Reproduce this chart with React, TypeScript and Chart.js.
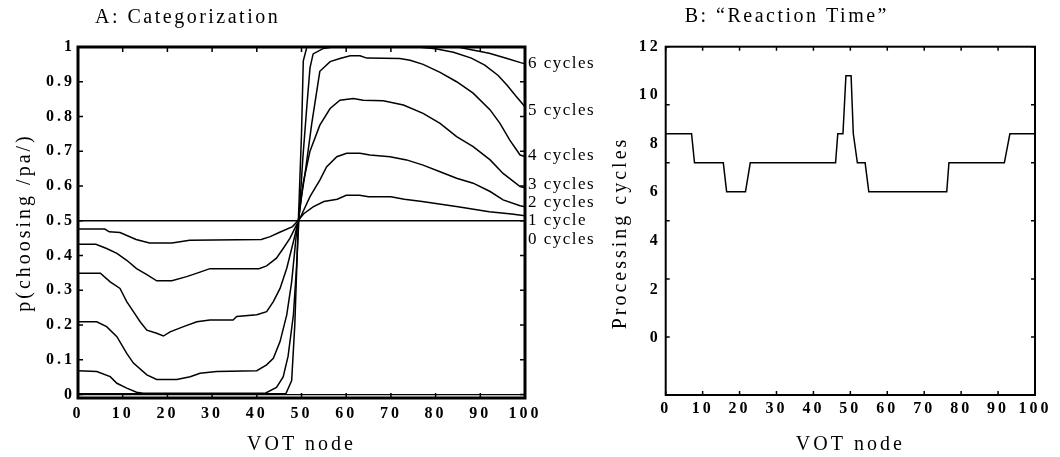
import React, { useEffect, useRef } from 'react';
import { Chart, registerables } from 'chart.js';
Chart.register(...registerables);

const FONT = '"Liberation Serif", "Times New Roman", serif';

// ---- Panel A data ----
const xTicks = [0, 10, 20, 30, 40, 50, 60, 70, 80, 90, 100];
const yTicksA = [0, 0.1, 0.2, 0.3, 0.4, 0.5, 0.6, 0.7, 0.8, 0.9, 1];

const cycle0: [number, number][] = [[0, 0.5], [100, 0.5]];
const cycle1: [number, number][] = [
  [0, 0.476], [6, 0.476], [7, 0.468], [9.4, 0.466], [13, 0.446], [16, 0.436], [21, 0.436], [25, 0.444],
  [41, 0.446], [43, 0.454], [45, 0.466], [48, 0.483], [49.2, 0.5], [50.5, 0.52], [52.6, 0.54], [55, 0.555],
  [58, 0.562], [60, 0.573], [63, 0.573], [65, 0.569], [70, 0.569], [73, 0.562], [77, 0.555], [85, 0.54],
  [92, 0.526], [97, 0.519], [100, 0.514],
];
const cycle2: [number, number][] = [
  [0, 0.432], [4, 0.432], [6.4, 0.42], [8.7, 0.406], [10.9, 0.386], [13.1, 0.362], [15.4, 0.345],
  [17.6, 0.327], [21, 0.327], [24.3, 0.339], [27.3, 0.352], [29.5, 0.362], [40.5, 0.362], [42.2, 0.37],
  [44.4, 0.392], [45.9, 0.42], [47.4, 0.449], [48.9, 0.488], [49.4, 0.5], [51.9, 0.569], [54.1, 0.617],
  [55.6, 0.655], [57.9, 0.684], [60.1, 0.694], [63.1, 0.694], [65.3, 0.689], [69.8, 0.684], [73.5, 0.675],
  [77.2, 0.66], [81, 0.641], [84.7, 0.622], [88.4, 0.608], [92.2, 0.584], [95.1, 0.56], [98.9, 0.543], [100, 0.54],
];
const cycle3: [number, number][] = [
  [0, 0.349], [5, 0.349], [7.2, 0.324], [9.4, 0.305], [10.9, 0.267], [12.4, 0.238], [13.9, 0.209],
  [15.4, 0.185], [17.6, 0.176], [19.1, 0.168], [20.6, 0.18], [23.6, 0.195], [26.6, 0.209], [29.5, 0.214],
  [34.7, 0.214], [35.5, 0.224], [40, 0.229], [42.2, 0.238], [43.7, 0.267], [45.2, 0.305], [46.7, 0.363],
  [48.2, 0.44], [49.3, 0.5], [50.4, 0.61], [51.9, 0.7], [54.1, 0.775], [56.4, 0.823], [58.6, 0.847],
  [61.6, 0.852], [63.8, 0.847], [68.3, 0.845], [72.8, 0.833], [77.2, 0.809], [81, 0.78], [84.7, 0.742],
  [88.4, 0.713], [92.2, 0.675], [95.1, 0.636], [98.9, 0.598], [100, 0.595],
];
const cycle4: [number, number][] = [
  [0, 0.209], [4.2, 0.209], [6.4, 0.195], [8.7, 0.166], [10.9, 0.118], [12.4, 0.09], [15.4, 0.056],
  [17.6, 0.043], [22.1, 0.043], [25.1, 0.051], [27.3, 0.061], [31, 0.066], [40, 0.068], [42.2, 0.085],
  [43.7, 0.104], [45.2, 0.152], [46.7, 0.229], [47.8, 0.324], [48.9, 0.468], [49.3, 0.5], [50, 0.569],
  [50.8, 0.636], [52.3, 0.78], [54.1, 0.93], [56.4, 0.958], [58.6, 0.967], [60.9, 0.975], [63.1, 0.975],
  [64.6, 0.968], [72, 0.967], [74.3, 0.962], [77.2, 0.95], [81, 0.927], [84.7, 0.9], [88.4, 0.867],
  [92.2, 0.819], [94.4, 0.78], [96.6, 0.732], [98.9, 0.689], [100, 0.685],
];
const cycle5: [number, number][] = [
  [0, 0.068], [4.2, 0.066], [7.2, 0.051], [8.7, 0.032], [10.9, 0.018], [13.1, 0.006], [14.6, 0.003],
  [42, 0.004], [44.4, 0.02], [45.9, 0.05], [47, 0.11], [48.2, 0.23], [48.9, 0.37], [49.4, 0.5],
  [50.3, 0.68], [51.2, 0.83], [51.9, 0.94], [52.6, 0.98], [54.9, 0.996], [57, 1], [76, 1], [80, 0.995],
  [84, 0.985], [88, 0.968], [91, 0.948], [94, 0.918], [96, 0.89], [98, 0.858], [100, 0.828],
];
const cycle6: [number, number][] = [
  [0, 0.002], [46.5, 0.002], [47.8, 0.04], [48.5, 0.2], [49.3, 0.5], [50, 0.75], [50.4, 0.96],
  [51.2, 1], [85, 1], [88, 0.992], [92, 0.982], [96, 0.967], [99, 0.955], [100, 0.952],
];
const cycleSeries = [cycle0, cycle1, cycle2, cycle3, cycle4, cycle5, cycle6];

const cycleLabels = ['0 cycles', '1 cycle', '2 cycles', '3 cycles', '4 cycles', '5 cycles', '6 cycles'];
const cycleLabelY = [0.445, 0.5, 0.551, 0.603, 0.689, 0.818, 0.953];

// ---- Panel B data ----
const yLabelsB = [0, 2, 4, 6, 8, 10, 12];
const yMarksB = [0, 2, 4, 6, 8, 10, 12];
const rtX = [0, 7, 7.8, 15.6, 16.5, 21.6, 22.9, 46, 46.6, 48, 48.8, 50.2, 50.8, 51.9, 54, 55, 76.1, 76.7, 91.7, 93.2, 100];
const rtY = [9, 9, 8, 8, 7, 7, 8, 8, 9, 9, 11, 11, 9, 8, 8, 7, 7, 8, 8, 9, 9];

const spacingPlugin = (spacing: string) => ({
  id: 'spacing',
  beforeDraw(chart: any) {
    (chart.ctx as any).letterSpacing = spacing;
  },
  afterDraw(chart: any) {
    (chart.ctx as any).letterSpacing = '0px';
  },
});

function framePlugin(opts: {
  border: number;
  tick: number;
  yAxis: string;
  yMarks: number[];
  title: string;
  titleX: number;
  titleY: number;
  labels?: boolean;
  yTitle?: { text: string; x: number; y: number };
}) {
  return {
    id: 'frame',
    afterDraw(chart: any) {
      const { ctx, chartArea: a, scales } = chart;
      const xs = scales.x;
      const ys = scales[opts.yAxis];
      ctx.save();
      (ctx as any).letterSpacing = '0px';
      ctx.strokeStyle = '#000';
      ctx.lineWidth = 1.5;
      ctx.beginPath();
      xTicks.forEach((v) => {
        const px = xs.getPixelForValue(v);
        ctx.moveTo(px, a.top);
        ctx.lineTo(px, a.top + opts.tick);
        ctx.moveTo(px, a.bottom);
        ctx.lineTo(px, a.bottom - opts.tick);
      });
      opts.yMarks.forEach((v) => {
        const py = ys.getPixelForValue(v);
        ctx.moveTo(a.left, py);
        ctx.lineTo(a.left + opts.tick, py);
        ctx.moveTo(a.right, py);
        ctx.lineTo(a.right - opts.tick, py);
      });
      ctx.stroke();
      ctx.lineWidth = opts.border;
      ctx.strokeRect(a.left, a.top, a.right - a.left, a.bottom - a.top);
      ctx.fillStyle = '#000';
      if (opts.labels) {
        ctx.font = `17px ${FONT}`;
        (ctx as any).letterSpacing = '1.5px';
        ctx.textAlign = 'left';
        ctx.textBaseline = 'middle';
        cycleLabels.forEach((t, i) => {
          ctx.fillText(t, a.right + 3, ys.getPixelForValue(cycleLabelY[i]));
        });
      }
      ctx.font = `20px ${FONT}`;
      (ctx as any).letterSpacing = '2.5px';
      ctx.textAlign = 'left';
      ctx.textBaseline = 'middle';
      ctx.fillText(opts.title, a.left + opts.titleX, opts.titleY);
      if (opts.yTitle) {
        ctx.save();
        ctx.translate(opts.yTitle.x, opts.yTitle.y);
        ctx.rotate(-Math.PI / 2);
        ctx.font = `20px ${FONT}`;
        (ctx as any).letterSpacing = '3px';
        ctx.textAlign = 'center';
        ctx.fillText(opts.yTitle.text, 0, 0);
        ctx.restore();
      }
      ctx.restore();
    },
  };
}

const tickFont = { family: FONT, size: 16, weight: 'bold' as const };
const titleFont = { family: FONT, size: 20 };

function xScale(height: number, pad: number) {
  return {
    type: 'linear' as const,
    min: 0,
    max: 100,
    afterBuildTicks: (s: any) => {
      s.ticks = xTicks.map((v) => ({ value: v }));
    },
    afterFit: (s: any) => {
      s.height = height;
    },
    grid: { display: false, drawTicks: false },
    border: { display: false },
    ticks: { font: tickFont, color: '#000', padding: pad, maxRotation: 0, autoSkip: false, callback: (v: any) => String(v) },
    title: { display: true, text: 'VOT node', font: titleFont, color: '#000', padding: { top: 0, bottom: 0 } },
  };
}

export default function App() {
  const refA = useRef<HTMLCanvasElement>(null);
  const refB = useRef<HTMLCanvasElement>(null);

  useEffect(() => {
    const chartA = new Chart(refA.current!, {
      type: 'line',
      data: {
        datasets: cycleSeries.map((s, i) => ({
          label: cycleLabels[i],
          data: s.map(([x, y]) => ({ x, y })),
          borderColor: '#000',
          borderWidth: 1.5,
          pointRadius: 0,
          tension: 0,
          fill: false,
        })),
      },
      options: {
        responsive: false,
        animation: false,
        layout: { padding: { left: 0, right: 75, top: 47, bottom: 0 } },
        plugins: { legend: { display: false }, tooltip: { enabled: false } },
        scales: {
          x: xScale(59, 6),
          y: {
            type: 'linear',
            min: -0.0104,
            max: 1,
            afterBuildTicks: (s: any) => {
              s.ticks = yTicksA.map((v) => ({ value: v }));
            },
            afterFit: (s: any) => {
              s.width = 78;
            },
            grid: {
              drawTicks: false,
              color: (c: any) => (c.tick && c.tick.value === 0 ? '#000' : 'rgba(0,0,0,0)'),
              lineWidth: 1.2,
            },
            border: { display: false },
            ticks: { font: tickFont, color: '#000', padding: 3, callback: (v: any) => String(v) },
            title: { display: true, text: 'p(choosing /pa/)', font: titleFont, color: '#000', padding: { top: 13, bottom: 0 } },
          },
        },
      },
      plugins: [
        spacingPlugin('3px'),
        framePlugin({ border: 3, tick: 5, yAxis: 'y', yMarks: yTicksA, title: 'A: Categorization', titleX: 17, titleY: 18, labels: true }),
      ],
    } as any);

    const chartB = new Chart(refB.current!, {
      type: 'line',
      data: {
        datasets: [
          {
            label: 'Processing cycles',
            data: rtX.map((x, i) => ({ x, y: rtY[i] })),
            borderColor: '#000',
            borderWidth: 1.5,
            pointRadius: 0,
            tension: 0,
            fill: false,
            yAxisID: 'y',
          },
        ],
      },
      options: {
        responsive: false,
        animation: false,
        layout: { padding: { left: 0, right: 25, top: 46.7, bottom: 0 } },
        plugins: { legend: { display: false }, tooltip: { enabled: false } },
        scales: {
          x: xScale(62, 4),
          y: { type: 'linear', display: false, min: 0, max: 12 },
          yL: {
            type: 'linear',
            position: 'left',
            min: -2.35,
            max: 12,
            afterBuildTicks: (s: any) => {
              s.ticks = yLabelsB.map((v) => ({ value: v }));
            },
            afterFit: (s: any) => {
              s.width = 65.7;
            },
            grid: { display: false, drawTicks: false },
            border: { display: false },
            ticks: { font: tickFont, color: '#000', padding: 5, callback: (v: any) => String(v) },
            title: { display: false },
          },
        },
      },
      plugins: [
        spacingPlugin('3px'),
        framePlugin({
          border: 2,
          tick: 4,
          yAxis: 'y',
          yMarks: yMarksB,
          title: 'B: \u201CReaction Time\u201D',
          titleX: 19,
          titleY: 17,
          yTitle: { text: 'Processing cycles', x: 21, y: 233 },
        }),
      ],
    } as any);

    return () => {
      chartA.destroy();
      chartB.destroy();
    };
  }, []);

  return (
    <div style={{ position: 'fixed', left: 0, top: 0, width: 1060, height: 457, background: '#fff' }}>
      <canvas ref={refA} width={600} height={457} style={{ position: 'absolute', left: 0, top: 0, width: 600, height: 457 }} />
      <canvas ref={refB} width={460} height={457} style={{ position: 'absolute', left: 600, top: 0, width: 460, height: 457 }} />
    </div>
  );
}
